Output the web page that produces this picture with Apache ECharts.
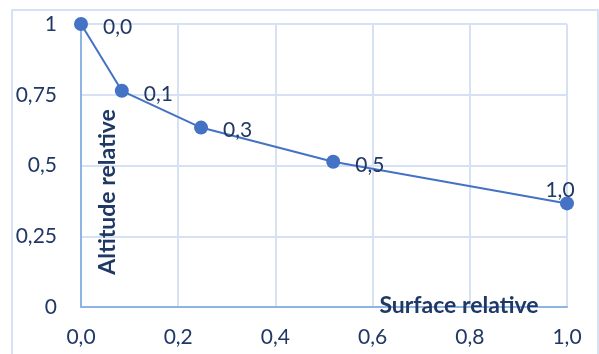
<!DOCTYPE html>
<html><head><meta charset="utf-8">
<script src="https://cdn.jsdelivr.net/npm/echarts@6/dist/echarts.min.js"></script>
<style>html,body{margin:0;padding:0;background:#fff}#c{width:599px;height:354px}</style>
</head><body><div id="c"></div>
<script>
var surfaceValues = [0.0, 0.084, 0.247, 0.519, 1.0];
var altitudeValues = [1.0, 0.764, 0.634, 0.513, 0.366];
var pointLabels = ['0,0', '0,1', '0,3', '0,5', '1,0'];
var xTicks = [0, 0.2, 0.4, 0.6, 0.8, 1.0];
var yTicks = [0, 0.25, 0.5, 0.75, 1];
var xTitle = 'Surface relative';
var yTitle = 'Altitude relative';

var txt = '#1f3864';
var font = 'Lato';
var data = surfaceValues.map(function (x, i) {
  var d = { value: [x, altitudeValues[i]], name: pointLabels[i] };
  if (i === pointLabels.length - 1) {
    d.label = { position: 'top', distance: -4, offset: [-7, 0] };
  }
  return d;
});
var chart = echarts.init(document.getElementById('c'), null, { renderer: 'canvas' });
chart.setOption({
  animation: false,
  grid: { left: 81, right: 32, top: 24, bottom: 47 },
  xAxis: {
    type: 'value', min: 0, max: 1, interval: 0.2,
    axisLine: { show: true, lineStyle: { color: '#8eb4e3', width: 2 } },
    axisTick: { show: false },
    splitLine: { show: true, lineStyle: { color: '#d6e2f3', width: 2 } },
    axisLabel: { color: txt, fontFamily: font, fontSize: 21, margin: 20,
      formatter: function (v) { return v.toFixed(1).replace('.', ','); } }
  },
  yAxis: {
    type: 'value', min: 0, max: 1, interval: 0.25,
    axisLine: { show: true, lineStyle: { color: '#8eb4e3', width: 2 } },
    axisTick: { show: false },
    splitLine: { show: true, lineStyle: { color: '#d6e2f3', width: 2 } },
    axisLabel: { color: txt, fontFamily: font, fontSize: 21, margin: 24,
      formatter: function (v) { return String(v).replace('.', ','); } }
  },
  graphic: [
    { type: 'rect', silent: true, z: -1, shape: { x: 12, y: 10, width: 586, height: 360 },
      style: { fill: 'none', stroke: '#d6e2f3', lineWidth: 2 } },
    { type: 'text', z: 10, x: 108, y: 192, rotation: Math.PI / 2,
      style: { text: yTitle, fill: txt, font: 'bold 23px Lato', align: 'center', verticalAlign: 'middle' } },
    { type: 'text', z: 10, x: 459, y: 306,
      style: { text: xTitle, fill: txt, font: 'bold 23px Lato', align: 'center', verticalAlign: 'middle' } }
  ],
  series: [{
    type: 'line', data: data,
    symbol: 'circle', symbolSize: 14,
    lineStyle: { color: '#4472c4', width: 2 },
    itemStyle: { color: '#4472c4' },
    label: { show: true, position: 'right', distance: 15, offset: [0, 3], color: txt,
      fontFamily: font, fontSize: 21, formatter: function (p) { return p.name; } }
  }]
});
</script></body></html>
